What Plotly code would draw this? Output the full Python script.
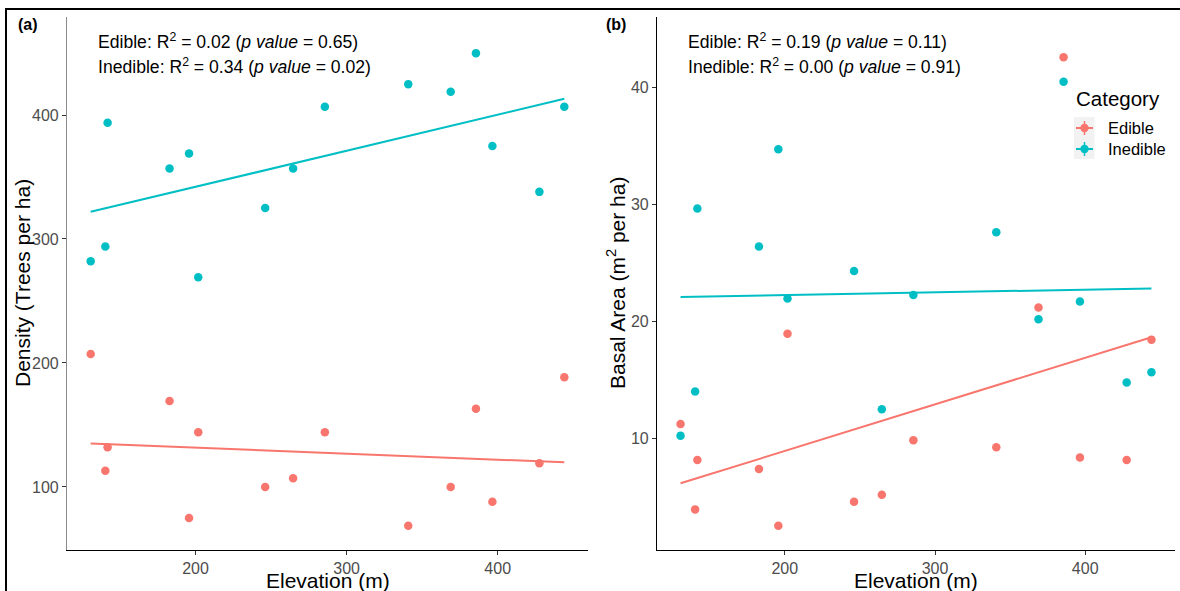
import numpy as np
import plotly.graph_objects as go

W, H = 1180, 591

# Site elevations (m) shared by both panels
elevation = [130.6, 140.3, 141.8, 182.8, 195.7, 201.8, 246.1, 264.6,
             285.6, 340.8, 368.9, 385.6, 396.5, 427.6, 444.1]

# Panel (a): tree density (trees per ha)
density_edible = [207.3, 113.0, 132.1, 169.3, 75.0, 144.2, 100.0, 107.0,
                  144.2, 68.7, 100.0, 163.1, 88.1, 119.1, 188.4]
density_inedible = [282.0, 294.0, 393.8, 356.8, 368.9, 269.2, 325.0, 356.8,
                    406.7, 424.9, 418.8, 449.9, 375.0, 338.0, 406.7]

# Panel (b): basal area (m2 per ha)
basal_edible = [11.25, 3.96, 8.18, 7.41, 2.56, 18.97, 4.62, 5.21,
                9.86, 9.26, 21.2, 42.59, 8.40, 8.18, 18.46]
basal_inedible = [10.26, 14.02, 29.66, 26.42, 34.72, 21.97, 24.32, 12.51,
                  22.28, 27.64, 20.2, 40.48, 21.71, 14.79, 15.67]

categories = ["Edible", "Inedible"]
colors = {"Edible": "#F8766D", "Inedible": "#00BFC4"}

stats_a = ["Edible: R<sup>2</sup> = 0.02 (<i>p value</i> = 0.65)",
           "Inedible: R<sup>2</sup> = 0.34 (<i>p value</i> = 0.02)"]
stats_b = ["Edible: R<sup>2</sup> = 0.19 (<i>p value</i> = 0.11)",
           "Inedible: R<sup>2</sup> = 0.00 (<i>p value</i> = 0.91)"]
# data-space height of the first statistics line in each panel
stats_y_a = 459.5
stats_y_b = 43.95

xticks = [200, 300, 400]
yticks_a = [100, 200, 300, 400]
yticks_b = [10, 20, 30, 40]

FONT = "Liberation Sans, Arial, sans-serif"


def px_x(p):
    return p / W


def px_y(p):
    return 1 - p / H


def expand(vals, frac=0.05):
    lo, hi = min(vals), max(vals)
    pad = (hi - lo) * frac
    return [lo - pad, hi + pad]


fig = go.Figure()

panels = [
    ("x", "y", {"Edible": density_edible, "Inedible": density_inedible}),
    ("x2", "y2", {"Edible": basal_edible, "Inedible": basal_inedible}),
]

for xa, ya, series in panels:
    for cat in categories:
        vals = series[cat]
        # fitted least-squares line over the observed elevation span
        slope, intercept = np.polyfit(elevation, vals, 1)
        xs = np.array([min(elevation), max(elevation)])
        fig.add_trace(go.Scatter(
            x=xs, y=slope * xs + intercept, mode="lines",
            line=dict(color=colors[cat], width=2),
            xaxis=xa, yaxis=ya, showlegend=False, hoverinfo="skip"))
        fig.add_trace(go.Scatter(
            x=elevation, y=vals, mode="markers",
            marker=dict(color=colors[cat], size=8.5),
            xaxis=xa, yaxis=ya, showlegend=False, name=cat))

axis_common = dict(
    showline=True, linecolor="black", linewidth=1.2,
    ticks="outside", ticklen=4, tickwidth=1.1, tickcolor="#333333",
    tickfont=dict(family=FONT, size=16, color="#4D4D4D"),
    showgrid=False, zeroline=False, automargin=False,
)

ydom = [px_y(550), px_y(17)]
xrange = expand(elevation)
yrange_a = expand(density_edible + density_inedible + [stats_y_a])
yrange_b = expand(basal_edible + basal_inedible + [stats_y_b])

fig.update_layout(
    width=W, height=H,
    margin=dict(l=0, r=0, t=0, b=0),
    paper_bgcolor="white", plot_bgcolor="white",
    font=dict(family=FONT, color="black"),
    showlegend=False,
    xaxis=dict(domain=[px_x(67), px_x(588)], range=xrange,
               tickvals=xticks, anchor="y", **axis_common),
    yaxis=dict(domain=ydom, range=yrange_a, tickvals=yticks_a, anchor="x",
               **{**axis_common, "linecolor": "#8A8A8A"}),
    xaxis2=dict(domain=[px_x(657), px_x(1175)], range=xrange,
                tickvals=xticks, anchor="y2", **axis_common),
    yaxis2=dict(domain=ydom, range=yrange_b, tickvals=yticks_b, anchor="x2",
                **axis_common),
)

annotations = []

# axis titles
title_font = dict(size=21, color="black")
for xc in ((67 + 588) / 2, (657 + 1175) / 2):
    annotations.append(dict(text="Elevation (m)", x=px_x(xc), y=px_y(580.5),
                            xref="paper", yref="paper", xanchor="center", yanchor="middle",
                            showarrow=False, font=title_font))
for txt, xc in (("Density (Trees per ha)", 22.5), ("Basal Area (m<sup>2</sup> per ha)", 616.5)):
    annotations.append(dict(text=txt, x=px_x(xc), y=px_y(283.5), textangle=-90,
                            xref="paper", yref="paper", xanchor="center", yanchor="middle",
                            showarrow=False, font=title_font))

# panel tags
for tag, xp in (("<b>(a)</b>", 16), ("<b>(b)</b>", 604)):
    annotations.append(dict(text=tag, x=px_x(xp), y=px_y(24), xref="paper", yref="paper",
                            xanchor="left", yanchor="middle", showarrow=False,
                            font=dict(size=16, color="black")))

# regression statistics, anchored in data space
for lines, xa, ya, y0, y1 in ((stats_a, "x", "y", stats_y_a, yrange_a),
                              (stats_b, "x2", "y2", stats_y_b, yrange_b)):
    line_step = (y1[1] - y1[0]) * 24.8 / 533
    for i, txt in enumerate(lines):
        annotations.append(dict(text=txt, x=xrange[0] + (xrange[1] - xrange[0]) * 29 / 521,
                                y=y0 - i * line_step, xref=xa, yref=ya,
                                xanchor="left", yanchor="middle", showarrow=False,
                                font=dict(size=17.6, color="black")))

# legend drawn inside panel (b)
annotations.append(dict(text="Category", x=px_x(1074), y=px_y(99), xref="paper", yref="paper",
                        xanchor="left", yanchor="middle", showarrow=False,
                        font=dict(size=20.5, color="black")))
shapes = [
    dict(type="rect", xref="paper", yref="paper", x0=px_x(1074), x1=px_x(1094.5),
         y0=px_y(117), y1=px_y(159), fillcolor="#F2F2F2", line=dict(width=0), layer="above"),
]
for cat, cy in zip(categories, (128, 149)):
    col = colors[cat]
    annotations.append(dict(text=cat, x=px_x(1106), y=px_y(cy), xref="paper", yref="paper",
                            xanchor="left", yanchor="middle", showarrow=False,
                            font=dict(size=16.5, color="black")))
    shapes.append(dict(type="line", xref="paper", yref="paper",
                       x0=px_x(1076), x1=px_x(1093), y0=px_y(cy), y1=px_y(cy),
                       line=dict(color=col, width=2), layer="above"))
    shapes.append(dict(type="line", xref="paper", yref="paper",
                       x0=px_x(1084.5), x1=px_x(1084.5), y0=px_y(cy - 7), y1=px_y(cy + 7),
                       line=dict(color=col, width=1.5), layer="above"))
    shapes.append(dict(type="circle", xref="paper", yref="paper",
                       x0=px_x(1080.3), x1=px_x(1088.7), y0=px_y(cy - 4.2), y1=px_y(cy + 4.2),
                       fillcolor=col, line=dict(width=0), layer="above"))

# outer frame lines along the top and left edges
shapes.append(dict(type="line", xref="paper", yref="paper", x0=px_x(5), x1=1,
                   y0=px_y(9), y1=px_y(9), line=dict(color="black", width=2)))
shapes.append(dict(type="line", xref="paper", yref="paper", x0=px_x(6), x1=px_x(6),
                   y0=px_y(8), y1=0, line=dict(color="black", width=2)))

fig.update_layout(annotations=annotations, shapes=shapes)

fig.write_html("out.html")
